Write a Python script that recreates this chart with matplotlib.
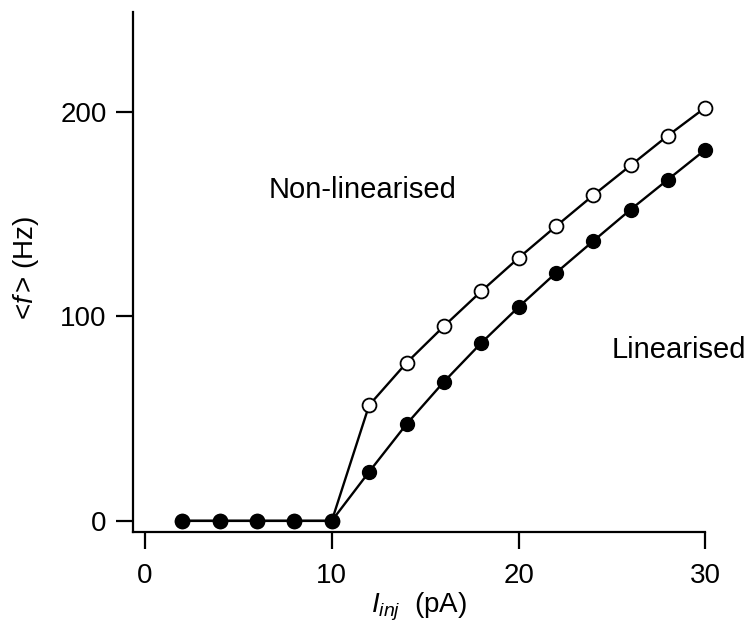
import numpy as np
import matplotlib.pyplot as plt

plt.rcParams['font.family'] = ['Liberation Sans', 'DejaVu Sans']
plt.rcParams['mathtext.fontset'] = 'custom'
plt.rcParams['mathtext.it'] = 'Liberation Sans:italic'
plt.rcParams['mathtext.rm'] = 'Liberation Sans'

# injected current (pA)
i_inj = [2, 4, 6, 8, 10, 12, 14, 16, 18, 20, 22, 24, 26, 28, 30]
# mean firing rate (Hz)
f_nonlin = [0, 0, 0, 0, 0, 56.6, 77.3, 95.2, 112.3, 128.6, 144.1, 159.3, 173.9, 188.5, 202.2]
f_lin = [0, 0, 0, 0, 0, 24.0, 47.3, 68.0, 87.0, 104.6, 121.3, 136.9, 152.3, 167.0, 181.6]

fig = plt.figure(figsize=(7.56, 6.26), dpi=100)
ax = fig.add_axes([0.176, 0.150, 0.757, 0.831])

ax.plot(i_inj, f_nonlin, '-o', color='black', lw=1.7, ms=10,
        mfc='white', mec='black', mew=1.3, zorder=2, clip_on=False)
ax.plot(i_inj, f_lin, '-o', color='black', lw=1.7, ms=10,
        mfc='black', mec='black', zorder=3, clip_on=False)

ax.text(6.6, 162, 'Non-linearised', fontsize=21, ha='left', va='center')
ax.text(25.0, 83.5, 'Linearised', fontsize=21, ha='left', va='center')

ax.set_xlim(-0.64, 30)
ax.set_ylim(-5.5, 249)
ax.set_xticks([0, 10, 20, 30])
ax.set_yticks([0, 100, 200])
ax.tick_params(labelsize=20, length=12, width=1.6, direction='out')
ax.tick_params(axis='y', pad=7)
ax.tick_params(axis='x', pad=10)

for s in ['top', 'right']:
    ax.spines[s].set_visible(False)
for s in ['left', 'bottom']:
    ax.spines[s].set_linewidth(1.6)

ax.set_xlabel(r'$I_{inj}$  (pA)', fontsize=20)
ax.set_ylabel(r'<$f\,$> (Hz)', fontsize=20)
ax.xaxis.set_label_coords(0.5, -0.112)
ax.yaxis.set_label_coords(-0.16, 0.508)

fig.savefig('out.png', dpi=100)
